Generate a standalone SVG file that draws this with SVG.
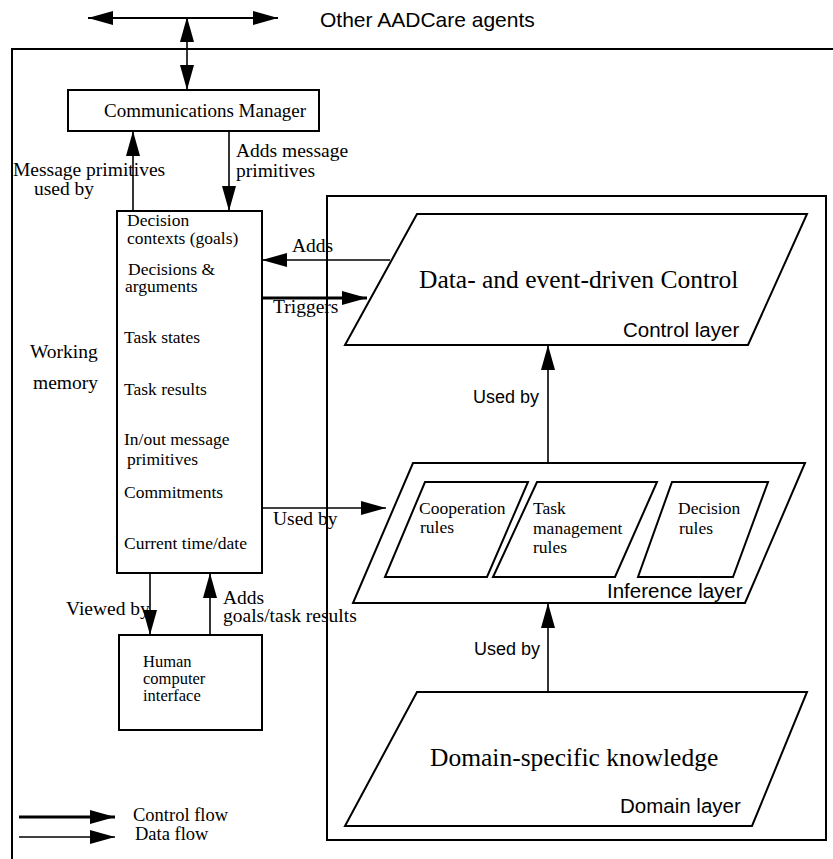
<svg xmlns="http://www.w3.org/2000/svg" width="833" height="859" viewBox="0 0 833 859">
<style>
.box{fill:#fff;stroke:#000;stroke-width:2}
.frame{fill:none;stroke:#000;stroke-width:2}
.thin{fill:none;stroke:#000;stroke-width:1.6}
.thick{fill:none;stroke:#000;stroke-width:3.2}
.serif{font-family:"Liberation Serif","Times New Roman",serif;fill:#000}
.sans{font-family:"Liberation Sans",Arial,sans-serif;fill:#000}
.lbl{font-size:19.5px}
.wm{font-size:17.5px}
.hc{font-size:16.5px}
.big{font-size:25.5px}
.lay{font-size:20.5px}
</style>
<defs>
<marker id="ah" markerUnits="userSpaceOnUse" markerWidth="26" markerHeight="15" refX="25" refY="7.5" orient="auto-start-reverse">
<path d="M0,0.5 L25,7.5 L0,14.5 z" fill="#000"/>
</marker>
</defs>

<g id="frames">
<rect class="frame" x="12" y="49" width="840" height="830"/>
<rect class="frame" x="327" y="196" width="499" height="644"/>
</g>

<text class="sans" x="320" y="26.5" font-size="21">Other AADCare agents</text>

<g id="comm-manager">
<rect class="box" x="68" y="90" width="251" height="41"/>
<text class="serif" x="104" y="117" font-size="19">Communications Manager</text>
</g>

<g id="working-memory">
<rect class="box" x="117" y="211" width="145" height="362"/>
<text class="serif wm" x="127" y="226">Decision</text>
<text class="serif wm" x="127" y="244">contexts (goals)</text>
<text class="serif wm" x="128" y="275">Decisions &amp;</text>
<text class="serif wm" x="125" y="292">arguments</text>
<text class="serif wm" x="124" y="343">Task states</text>
<text class="serif wm" x="124" y="395">Task results</text>
<text class="serif wm" x="124" y="445">In/out message</text>
<text class="serif wm" x="127" y="465">primitives</text>
<text class="serif wm" x="124" y="498">Commitments</text>
<text class="serif wm" x="124" y="549">Current time/date</text>
<text class="serif lbl" x="30" y="358">Working</text>
<text class="serif lbl" x="33" y="389">memory</text>
</g>

<g id="hci">
<rect class="box" x="119" y="635" width="143" height="95"/>
<text class="serif hc" x="143" y="667">Human</text>
<text class="serif hc" x="143" y="684">computer</text>
<text class="serif hc" x="143" y="701">interface</text>
</g>

<g id="control-layer">
<polygon class="box" points="417,214 807,214 748,345 345,345"/>
<text class="serif big" x="419" y="288">Data- and event-driven Control</text>
<text class="sans lay" x="623" y="337">Control layer</text>
</g>

<g id="inference-layer">
<polygon class="box" points="413,463 805,463 745,603 353,603"/>
<text class="sans lay" x="607" y="598">Inference layer</text>
</g>

<g id="cooperation-rules">
<polygon class="box" points="425,482 528,482 487,577 385,577"/>
<text class="serif wm" x="419" y="514">Cooperation</text>
<text class="serif wm" x="420" y="533">rules</text>
</g>

<g id="task-management-rules">
<polygon class="box" points="537,482 657,482 615,577 493,577"/>
<text class="serif wm" x="533" y="514">Task</text>
<text class="serif wm" x="533" y="534">management</text>
<text class="serif wm" x="533" y="553">rules</text>
</g>

<g id="decision-rules">
<polygon class="box" points="672,482 768,482 733,577 638,577"/>
<text class="serif wm" x="678" y="514">Decision</text>
<text class="serif wm" x="679" y="534">rules</text>
</g>

<g id="domain-layer">
<polygon class="box" points="417,692 807,692 752,826 345,826"/>
<text class="serif big" x="430" y="766">Domain-specific knowledge</text>
<text class="sans lay" x="620" y="813">Domain layer</text>
</g>

<g id="connectors">
<line class="thin" x1="88" y1="18" x2="278" y2="18" style="stroke-width:2.2" marker-start="url(#ah)" marker-end="url(#ah)"/>
<line class="thin" x1="187" y1="17" x2="187" y2="90" marker-start="url(#ah)" marker-end="url(#ah)"/>
<line class="thin" x1="133" y1="211" x2="133" y2="131" marker-end="url(#ah)"/>
<line class="thin" x1="229" y1="131" x2="229" y2="211" marker-end="url(#ah)"/>
<line class="thin" x1="390" y1="260" x2="262" y2="260" marker-end="url(#ah)"/>
<line class="thick" x1="262" y1="298" x2="367" y2="298" marker-end="url(#ah)"/>
<line class="thin" x1="262" y1="508" x2="386" y2="508" marker-end="url(#ah)"/>
<line class="thin" x1="548" y1="463" x2="548" y2="345" marker-end="url(#ah)"/>
<line class="thin" x1="548" y1="692" x2="548" y2="603" marker-end="url(#ah)"/>
<line class="thin" x1="150" y1="573" x2="150" y2="635" marker-end="url(#ah)"/>
<line class="thin" x1="210" y1="635" x2="210" y2="573" marker-end="url(#ah)"/>
<text class="serif lbl" x="13" y="176">Message primitives</text>
<text class="serif lbl" x="34" y="195">used by</text>
<text class="serif lbl" x="236" y="157">Adds message</text>
<text class="serif lbl" x="236" y="177">primitives</text>
<text class="serif lbl" x="292" y="252">Adds</text>
<text class="serif lbl" x="273" y="313">Triggers</text>
<text class="serif lbl" x="273" y="525">Used by</text>
<text class="sans" x="473" y="403" font-size="18">Used by</text>
<text class="sans" x="474" y="655" font-size="18">Used by</text>
<text class="serif lbl" x="66" y="615">Viewed by</text>
<text class="serif lbl" x="223" y="604">Adds</text>
<text class="serif lbl" x="223" y="622">goals/task results</text>
</g>

<g id="legend">
<line class="thick" x1="19" y1="817" x2="115" y2="817" marker-end="url(#ah)"/>
<line class="thin" x1="19" y1="837" x2="115" y2="837" marker-end="url(#ah)"/>
<text class="serif" x="133" y="821" font-size="18.5">Control flow</text>
<text class="serif" x="135" y="840" font-size="18.5">Data flow</text>
</g>
</svg>
